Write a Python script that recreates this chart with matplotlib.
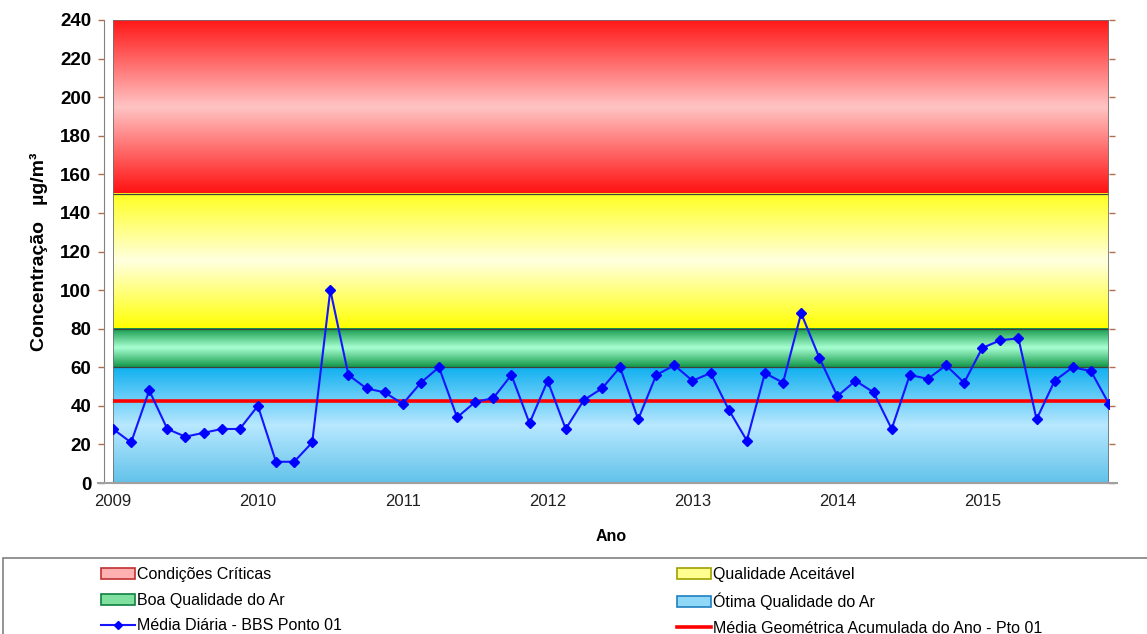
import matplotlib
matplotlib.use('Agg')
import matplotlib.pyplot as plt
import numpy as np
from matplotlib.colors import to_rgb
from matplotlib.lines import Line2D
from matplotlib.patches import Patch, Rectangle

plt.rcParams['font.family'] = ['Liberation Sans', 'DejaVu Sans']

# campanhas de amostragem: 8 por ano, a partir de jan/2009
ano_inicial = 2009
amostras_por_ano = 8
anos = [2009, 2010, 2011, 2012, 2013, 2014, 2015]
niveis = list(range(0, 241, 20))

media_diaria = [
    28, 21, 48, 28, 24, 26, 28, 28,
    40, 11, 11, 21, 100, 56, 49, 47,
    41, 52, 60, 34, 42, 44, 56, 31,
    53, 28, 43, 49, 60, 33, 56, 61,
    53, 57, 38, 22, 57, 52, 88, 65,
    45, 53, 47, 28, 56, 54, 61, 52,
    70, 74, 75, 33, 53, 60, 58, 41,
]
media_geometrica = 42.3

faixa_nomes = ['Condições Críticas', 'Qualidade Aceitável',
               'Boa Qualidade do Ar', 'Ótima Qualidade do Ar']
faixa_limites = [(150, 240), (80, 150), (60, 80), (0, 60)]
# cores do degradê de cada faixa: (posição relativa, cor) de baixo para cima
faixa_cores = [
    [(0, '#ff1010'), (0.5, '#ffc4c4'), (1, '#ff1818')],
    [(0, '#ffff00'), (0.5, '#ffffe0'), (1, '#ffff20')],
    [(0, '#129848'), (0.5, '#a8ffd2'), (1, '#129848')],
    [(0, '#62c2ea'), (0.5, '#b8e8ff'), (1, '#10b0f0')],
]
faixa_legenda = [('#ffb0b0', '#c03030'), ('#ffff90', '#a0a000'),
                 ('#80e0a0', '#108040'), ('#90d8f8', '#2080c0')]

x = [ano_inicial + i / amostras_por_ano for i in range(len(media_diaria))]
x0, x1 = x[0], x[-1]

fig = plt.figure(figsize=(11.47, 6.34), dpi=100)
W, H = 1147, 634
ax = fig.add_axes([113 / W, 1 - 483 / H, (1109 - 113) / W, (483 - 20) / H])

# spines primeiro: set_position recria os ticks
for lado in ['top', 'right']:
    ax.spines[lado].set_visible(False)
ax.spines['left'].set_position(('outward', 6.5))
ax.spines['left'].set_color('#808080')
ax.spines['bottom'].set_color('#909090')
ax.spines['bottom'].set_linewidth(1.5)


def degrade(ax, y0, y1, paradas):
    pos = [p for p, _ in paradas]
    cores = np.array([to_rgb(c) for _, c in paradas])
    t = np.linspace(0, 1, 200)
    img = np.stack([np.interp(t, pos, cores[:, k]) for k in range(3)], axis=-1)
    ax.imshow(img[:, None, :], extent=(x0, x1, y0, y1), origin='lower',
              aspect='auto', interpolation='bilinear', zorder=0)


for (y0, y1), paradas in zip(faixa_limites, faixa_cores):
    degrade(ax, y0, y1, paradas)
    ax.axhline(y0, color='#404040', lw=0.9, zorder=1)

ax.add_patch(Rectangle((x0, 0), x1 - x0, 240, fill=False,
                       edgecolor='#707070', lw=1.2, zorder=2))

ax.axhline(media_geometrica, color='#ff0000', lw=2.6, zorder=3)
ax.plot(x, media_diaria, color='#1515ff', lw=1.5, marker='D', ms=5.5,
        markerfacecolor='#0000ff', markeredgecolor='#0000ff', zorder=4)

ax.set_xlim(x0, x1)
ax.set_ylim(0, 240)
ax.set_yticks(niveis)
ax.set_xticks(anos)
ax.tick_params(axis='y', labelsize=13.5, length=4, color='#b07050', width=1,
               right=True, pad=5)
ax.tick_params(axis='x', labelsize=12, length=0, pad=8, labelcolor='#202020')
plt.setp(ax.get_yticklabels(), fontweight='bold')

fig.add_artist(Line2D([98 / W, 1117 / W], [1 - 483 / H] * 2,
                      color='#a0a0a0', lw=1.5))

ax.set_ylabel('Concentração   µg/m³', fontsize=14, fontweight='bold', labelpad=9)
ax.set_xlabel('Ano', fontsize=11.5, fontweight='bold', labelpad=14)

# caixa da legenda
fig.add_artist(Rectangle((3 / W, -0.05), (W + 10) / W, 0.05 + (634 - 558) / H,
                         transform=fig.transFigure, facecolor='white',
                         edgecolor='#808080', lw=1.2))

h_faixas = [Patch(facecolor=f, edgecolor=e, lw=1.2) for f, e in faixa_legenda]
h_diaria = Line2D([], [], color='#1515ff', lw=1.5, marker='D', ms=4,
                  markerfacecolor='#0000ff', markeredgecolor='#0000ff')
h_geom = Line2D([], [], color='#ff0000', lw=2.6)

opts = dict(frameon=False, fontsize=11.5, handlelength=2.1, handleheight=0.7,
            handletextpad=0.15, labelspacing=0.67, borderaxespad=0,
            borderpad=0, loc='upper left')
fig.legend([h_faixas[0], h_faixas[2], h_diaria],
           [faixa_nomes[0], faixa_nomes[2], 'Média Diária - BBS Ponto 01'],
           bbox_to_anchor=(101 / W, 1 - 567 / H), **opts)
fig.legend([h_faixas[1], h_faixas[3], h_geom],
           [faixa_nomes[1], faixa_nomes[3],
            'Média Geométrica Acumulada do Ano - Pto 01'],
           bbox_to_anchor=(677 / W, 1 - 567 / H), **opts)

fig.savefig('out.png', dpi=100)
